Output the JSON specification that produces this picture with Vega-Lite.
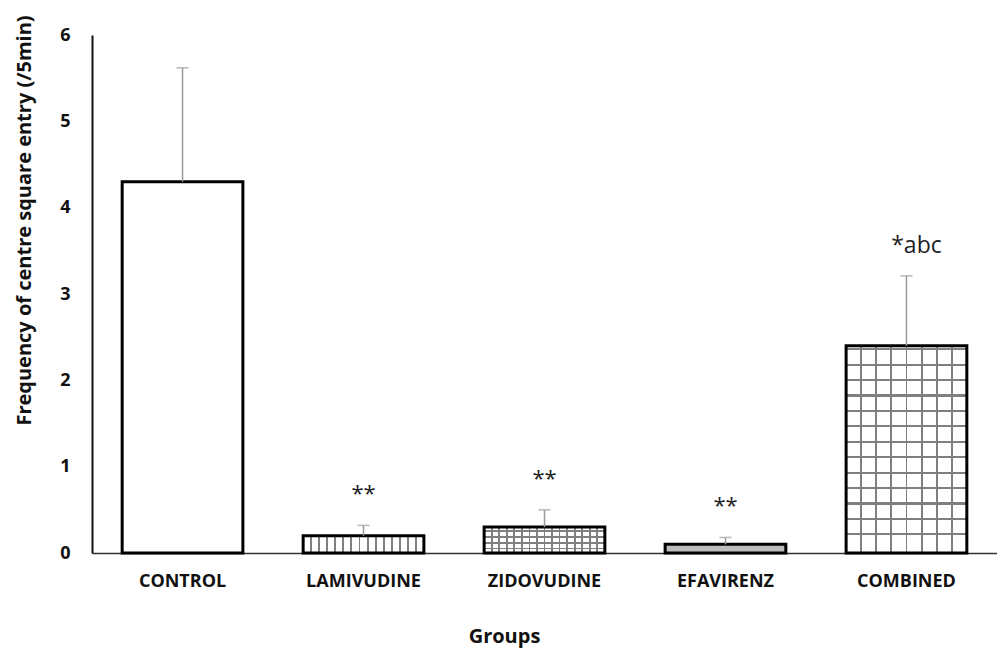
{
  "$schema": "https://vega.github.io/schema/vega-lite/v6.json",
  "width": 905,
  "height": 518,
  "autosize": {"type": "none"},
  "padding": {"left": 92, "top": 35, "right": 0, "bottom": 96},
  "background": "white",
  "config": {"view": {"stroke": null}, "font": "Open Sans"},
  "data": {"values": [
    {"group": "CONTROL", "mean": 4.3, "upper": 5.62, "label": ""},
    {"group": "LAMIVUDINE", "mean": 0.2, "upper": 0.32, "label": "**"},
    {"group": "ZIDOVUDINE", "mean": 0.3, "upper": 0.5, "label": "**"},
    {"group": "EFAVIRENZ", "mean": 0.1, "upper": 0.18, "label": "**"},
    {"group": "COMBINED", "mean": 2.4, "upper": 3.21, "label": "*abc"}
  ]},
  "encoding": {
    "x": {
      "field": "group", "type": "nominal", "sort": null,
      "scale": {"paddingInner": 0.333, "paddingOuter": 0.1667},
      "axis": {
        "title": "Groups", "labelAngle": 0, "ticks": false,
        "domainColor": "#333333", "domainWidth": 1.5,
        "labelFont": "Open Sans", "labelFontWeight": "bold", "labelFontSize": 18, "labelColor": "#111111",
        "labelPadding": 19,
        "titleFont": "Open Sans", "titleFontWeight": "bold", "titleFontSize": 20, "titleColor": "#111111",
        "titleX": 412, "titleY": 89, "titleBaseline": "alphabetic", "titleAlign": "center"
      }
    },
    "y": {
      "field": "mean", "type": "quantitative",
      "scale": {"domain": [0, 6], "nice": false},
      "axis": {
        "title": "Frequency of centre square entry (/5min)",
        "values": [0, 1, 2, 3, 4, 5, 6], "grid": false, "ticks": false,
        "domainColor": "#111111", "domainWidth": 2,
        "labelFont": "Open Sans", "labelFontWeight": "bold", "labelFontSize": 18, "labelColor": "#111111",
        "labelPadding": 22,
        "titleFont": "Open Sans", "titleFontWeight": "bold", "titleFontSize": 20, "titleColor": "#111111",
        "titleAngle": -90, "titleX": -68, "titleY": 185, "titleAlign": "center", "titleBaseline": "middle"
      }
    }
  },
  "layer": [
    {
      "transform": [{"filter": "datum.group === 'CONTROL'"}],
      "mark": {"type": "bar", "fill": "white", "stroke": "black", "strokeWidth": 3}
    },
    {
      "transform": [{"filter": "datum.group === 'LAMIVUDINE'"}],
      "mark": {"type": "bar", "stroke": "black", "strokeWidth": 3,
        "fill": {"gradient": "linear", "x1": 0, "y1": 0, "x2": 1, "y2": 0, "stops": [
          {"offset": 0, "color": "white"},
          {"offset": 0.0587, "color": "white"}, {"offset": 0.0587, "color": "#808080"}, {"offset": 0.0747, "color": "#808080"}, {"offset": 0.0747, "color": "white"},
          {"offset": 0.1253, "color": "white"}, {"offset": 0.1253, "color": "#808080"}, {"offset": 0.1413, "color": "#808080"}, {"offset": 0.1413, "color": "white"},
          {"offset": 0.192, "color": "white"}, {"offset": 0.192, "color": "#808080"}, {"offset": 0.208, "color": "#808080"}, {"offset": 0.208, "color": "white"},
          {"offset": 0.2587, "color": "white"}, {"offset": 0.2587, "color": "#808080"}, {"offset": 0.2747, "color": "#808080"}, {"offset": 0.2747, "color": "white"},
          {"offset": 0.3253, "color": "white"}, {"offset": 0.3253, "color": "#808080"}, {"offset": 0.3413, "color": "#808080"}, {"offset": 0.3413, "color": "white"},
          {"offset": 0.392, "color": "white"}, {"offset": 0.392, "color": "#808080"}, {"offset": 0.408, "color": "#808080"}, {"offset": 0.408, "color": "white"},
          {"offset": 0.4587, "color": "white"}, {"offset": 0.4587, "color": "#808080"}, {"offset": 0.4747, "color": "#808080"}, {"offset": 0.4747, "color": "white"},
          {"offset": 0.5253, "color": "white"}, {"offset": 0.5253, "color": "#808080"}, {"offset": 0.5413, "color": "#808080"}, {"offset": 0.5413, "color": "white"},
          {"offset": 0.592, "color": "white"}, {"offset": 0.592, "color": "#808080"}, {"offset": 0.608, "color": "#808080"}, {"offset": 0.608, "color": "white"},
          {"offset": 0.6587, "color": "white"}, {"offset": 0.6587, "color": "#808080"}, {"offset": 0.6747, "color": "#808080"}, {"offset": 0.6747, "color": "white"},
          {"offset": 0.7253, "color": "white"}, {"offset": 0.7253, "color": "#808080"}, {"offset": 0.7413, "color": "#808080"}, {"offset": 0.7413, "color": "white"},
          {"offset": 0.792, "color": "white"}, {"offset": 0.792, "color": "#808080"}, {"offset": 0.808, "color": "#808080"}, {"offset": 0.808, "color": "white"},
          {"offset": 0.8587, "color": "white"}, {"offset": 0.8587, "color": "#808080"}, {"offset": 0.8747, "color": "#808080"}, {"offset": 0.8747, "color": "white"},
          {"offset": 0.9253, "color": "white"}, {"offset": 0.9253, "color": "#808080"}, {"offset": 0.9413, "color": "#808080"}, {"offset": 0.9413, "color": "white"},
          {"offset": 1, "color": "white"}
        ]}}
    },
    {
      "transform": [{"filter": "datum.group === 'ZIDOVUDINE'"}],
      "mark": {"type": "bar",
        "fill": {"gradient": "linear", "x1": 0, "y1": 0, "x2": 1, "y2": 0, "stops": [
          {"offset": 0, "color": "white"},
          {"offset": 0.0555, "color": "white"}, {"offset": 0.0555, "color": "#808080"}, {"offset": 0.0695, "color": "#808080"}, {"offset": 0.0695, "color": "white"},
          {"offset": 0.118, "color": "white"}, {"offset": 0.118, "color": "#808080"}, {"offset": 0.132, "color": "#808080"}, {"offset": 0.132, "color": "white"},
          {"offset": 0.1805, "color": "white"}, {"offset": 0.1805, "color": "#808080"}, {"offset": 0.1945, "color": "#808080"}, {"offset": 0.1945, "color": "white"},
          {"offset": 0.243, "color": "white"}, {"offset": 0.243, "color": "#808080"}, {"offset": 0.257, "color": "#808080"}, {"offset": 0.257, "color": "white"},
          {"offset": 0.3055, "color": "white"}, {"offset": 0.3055, "color": "#808080"}, {"offset": 0.3195, "color": "#808080"}, {"offset": 0.3195, "color": "white"},
          {"offset": 0.368, "color": "white"}, {"offset": 0.368, "color": "#808080"}, {"offset": 0.382, "color": "#808080"}, {"offset": 0.382, "color": "white"},
          {"offset": 0.4305, "color": "white"}, {"offset": 0.4305, "color": "#808080"}, {"offset": 0.4445, "color": "#808080"}, {"offset": 0.4445, "color": "white"},
          {"offset": 0.493, "color": "white"}, {"offset": 0.493, "color": "#808080"}, {"offset": 0.507, "color": "#808080"}, {"offset": 0.507, "color": "white"},
          {"offset": 0.5555, "color": "white"}, {"offset": 0.5555, "color": "#808080"}, {"offset": 0.5695, "color": "#808080"}, {"offset": 0.5695, "color": "white"},
          {"offset": 0.618, "color": "white"}, {"offset": 0.618, "color": "#808080"}, {"offset": 0.632, "color": "#808080"}, {"offset": 0.632, "color": "white"},
          {"offset": 0.6805, "color": "white"}, {"offset": 0.6805, "color": "#808080"}, {"offset": 0.6945, "color": "#808080"}, {"offset": 0.6945, "color": "white"},
          {"offset": 0.743, "color": "white"}, {"offset": 0.743, "color": "#808080"}, {"offset": 0.757, "color": "#808080"}, {"offset": 0.757, "color": "white"},
          {"offset": 0.8055, "color": "white"}, {"offset": 0.8055, "color": "#808080"}, {"offset": 0.8195, "color": "#808080"}, {"offset": 0.8195, "color": "white"},
          {"offset": 0.868, "color": "white"}, {"offset": 0.868, "color": "#808080"}, {"offset": 0.882, "color": "#808080"}, {"offset": 0.882, "color": "white"},
          {"offset": 0.9305, "color": "white"}, {"offset": 0.9305, "color": "#808080"}, {"offset": 0.9445, "color": "#808080"}, {"offset": 0.9445, "color": "white"},
          {"offset": 1, "color": "white"}
        ]}}
    },
    {
      "transform": [{"filter": "datum.group === 'ZIDOVUDINE'"}],
      "mark": {"type": "bar", "stroke": "black", "strokeWidth": 3,
        "fill": {"gradient": "linear", "x1": 0, "y1": 0, "x2": 0, "y2": 1, "stops": [
          {"offset": 0, "color": "rgba(255,255,255,0)"},
          {"offset": 0.13, "color": "rgba(255,255,255,0)"}, {"offset": 0.13, "color": "#808080"}, {"offset": 0.19, "color": "#808080"}, {"offset": 0.19, "color": "rgba(255,255,255,0)"},
          {"offset": 0.35, "color": "rgba(255,255,255,0)"}, {"offset": 0.35, "color": "#808080"}, {"offset": 0.41, "color": "#808080"}, {"offset": 0.41, "color": "rgba(255,255,255,0)"},
          {"offset": 0.59, "color": "rgba(255,255,255,0)"}, {"offset": 0.59, "color": "#808080"}, {"offset": 0.65, "color": "#808080"}, {"offset": 0.65, "color": "rgba(255,255,255,0)"},
          {"offset": 0.79, "color": "rgba(255,255,255,0)"}, {"offset": 0.79, "color": "#808080"}, {"offset": 0.85, "color": "#808080"}, {"offset": 0.85, "color": "rgba(255,255,255,0)"},
          {"offset": 1, "color": "rgba(255,255,255,0)"}
        ]}}
    },
    {
      "transform": [{"filter": "datum.group === 'EFAVIRENZ'"}],
      "mark": {"type": "bar", "fill": "#bdbdbd", "stroke": "black", "strokeWidth": 3}
    },
    {
      "transform": [{"filter": "datum.group === 'COMBINED'"}],
      "mark": {"type": "bar",
        "fill": {"gradient": "linear", "x1": 0, "y1": 0, "x2": 1, "y2": 0, "stops": [
          {"offset": 0, "color": "white"},
          {"offset": 0.117, "color": "white"}, {"offset": 0.117, "color": "#808080"}, {"offset": 0.133, "color": "#808080"}, {"offset": 0.133, "color": "white"},
          {"offset": 0.242, "color": "white"}, {"offset": 0.242, "color": "#808080"}, {"offset": 0.258, "color": "#808080"}, {"offset": 0.258, "color": "white"},
          {"offset": 0.367, "color": "white"}, {"offset": 0.367, "color": "#808080"}, {"offset": 0.383, "color": "#808080"}, {"offset": 0.383, "color": "white"},
          {"offset": 0.492, "color": "white"}, {"offset": 0.492, "color": "#808080"}, {"offset": 0.508, "color": "#808080"}, {"offset": 0.508, "color": "white"},
          {"offset": 0.617, "color": "white"}, {"offset": 0.617, "color": "#808080"}, {"offset": 0.633, "color": "#808080"}, {"offset": 0.633, "color": "white"},
          {"offset": 0.742, "color": "white"}, {"offset": 0.742, "color": "#808080"}, {"offset": 0.758, "color": "#808080"}, {"offset": 0.758, "color": "white"},
          {"offset": 0.867, "color": "white"}, {"offset": 0.867, "color": "#808080"}, {"offset": 0.883, "color": "#808080"}, {"offset": 0.883, "color": "white"},
          {"offset": 1, "color": "white"}
        ]}}
    },
    {
      "transform": [{"filter": "datum.group === 'COMBINED'"}],
      "mark": {"type": "bar", "stroke": "black", "strokeWidth": 3,
        "fill": {"gradient": "linear", "x1": 0, "y1": 0, "x2": 0, "y2": 1, "stops": [
          {"offset": 0, "color": "rgba(255,255,255,0)"},
          {"offset": 0.012, "color": "rgba(255,255,255,0)"}, {"offset": 0.012, "color": "#808080"}, {"offset": 0.022, "color": "#808080"}, {"offset": 0.022, "color": "rgba(255,255,255,0)"},
          {"offset": 0.086, "color": "rgba(255,255,255,0)"}, {"offset": 0.086, "color": "#808080"}, {"offset": 0.096, "color": "#808080"}, {"offset": 0.096, "color": "rgba(255,255,255,0)"},
          {"offset": 0.161, "color": "rgba(255,255,255,0)"}, {"offset": 0.161, "color": "#808080"}, {"offset": 0.171, "color": "#808080"}, {"offset": 0.171, "color": "rgba(255,255,255,0)"},
          {"offset": 0.235, "color": "rgba(255,255,255,0)"}, {"offset": 0.235, "color": "#808080"}, {"offset": 0.245, "color": "#808080"}, {"offset": 0.245, "color": "rgba(255,255,255,0)"},
          {"offset": 0.31, "color": "rgba(255,255,255,0)"}, {"offset": 0.31, "color": "#808080"}, {"offset": 0.32, "color": "#808080"}, {"offset": 0.32, "color": "rgba(255,255,255,0)"},
          {"offset": 0.384, "color": "rgba(255,255,255,0)"}, {"offset": 0.384, "color": "#808080"}, {"offset": 0.394, "color": "#808080"}, {"offset": 0.394, "color": "rgba(255,255,255,0)"},
          {"offset": 0.458, "color": "rgba(255,255,255,0)"}, {"offset": 0.458, "color": "#808080"}, {"offset": 0.468, "color": "#808080"}, {"offset": 0.468, "color": "rgba(255,255,255,0)"},
          {"offset": 0.533, "color": "rgba(255,255,255,0)"}, {"offset": 0.533, "color": "#808080"}, {"offset": 0.543, "color": "#808080"}, {"offset": 0.543, "color": "rgba(255,255,255,0)"},
          {"offset": 0.607, "color": "rgba(255,255,255,0)"}, {"offset": 0.607, "color": "#808080"}, {"offset": 0.617, "color": "#808080"}, {"offset": 0.617, "color": "rgba(255,255,255,0)"},
          {"offset": 0.682, "color": "rgba(255,255,255,0)"}, {"offset": 0.682, "color": "#808080"}, {"offset": 0.692, "color": "#808080"}, {"offset": 0.692, "color": "rgba(255,255,255,0)"},
          {"offset": 0.756, "color": "rgba(255,255,255,0)"}, {"offset": 0.756, "color": "#808080"}, {"offset": 0.766, "color": "#808080"}, {"offset": 0.766, "color": "rgba(255,255,255,0)"},
          {"offset": 0.83, "color": "rgba(255,255,255,0)"}, {"offset": 0.83, "color": "#808080"}, {"offset": 0.84, "color": "#808080"}, {"offset": 0.84, "color": "rgba(255,255,255,0)"},
          {"offset": 0.905, "color": "rgba(255,255,255,0)"}, {"offset": 0.905, "color": "#808080"}, {"offset": 0.915, "color": "#808080"}, {"offset": 0.915, "color": "rgba(255,255,255,0)"},
          {"offset": 1, "color": "rgba(255,255,255,0)"}
        ]}}
    },
    {
      "mark": {"type": "rule", "color": "#9a9a9a", "strokeWidth": 1.5},
      "encoding": {
        "y": {"field": "mean", "type": "quantitative", "title": "Frequency of centre square entry (/5min)"},
        "y2": {"field": "upper"}
      }
    },
    {
      "mark": {"type": "tick", "color": "#9a9a9a", "thickness": 1.5, "size": 12},
      "encoding": {
        "y": {"field": "upper", "type": "quantitative", "title": "Frequency of centre square entry (/5min)"}
      }
    },
    {
      "transform": [{"filter": "datum.label === '**'"}],
      "mark": {"type": "text", "font": "Open Sans", "fontSize": 22, "color": "#222222", "baseline": "alphabetic", "dy": -24},
      "encoding": {
        "y": {"field": "upper", "type": "quantitative", "title": "Frequency of centre square entry (/5min)"},
        "text": {"field": "label"}
      }
    },
    {
      "transform": [{"filter": "datum.label === '*abc'"}],
      "mark": {"type": "text", "font": "Open Sans", "fontSize": 23, "color": "#222222", "baseline": "alphabetic", "dy": -23, "dx": 10},
      "encoding": {
        "y": {"field": "upper", "type": "quantitative", "title": "Frequency of centre square entry (/5min)"},
        "text": {"field": "label"}
      }
    }
  ]
}
